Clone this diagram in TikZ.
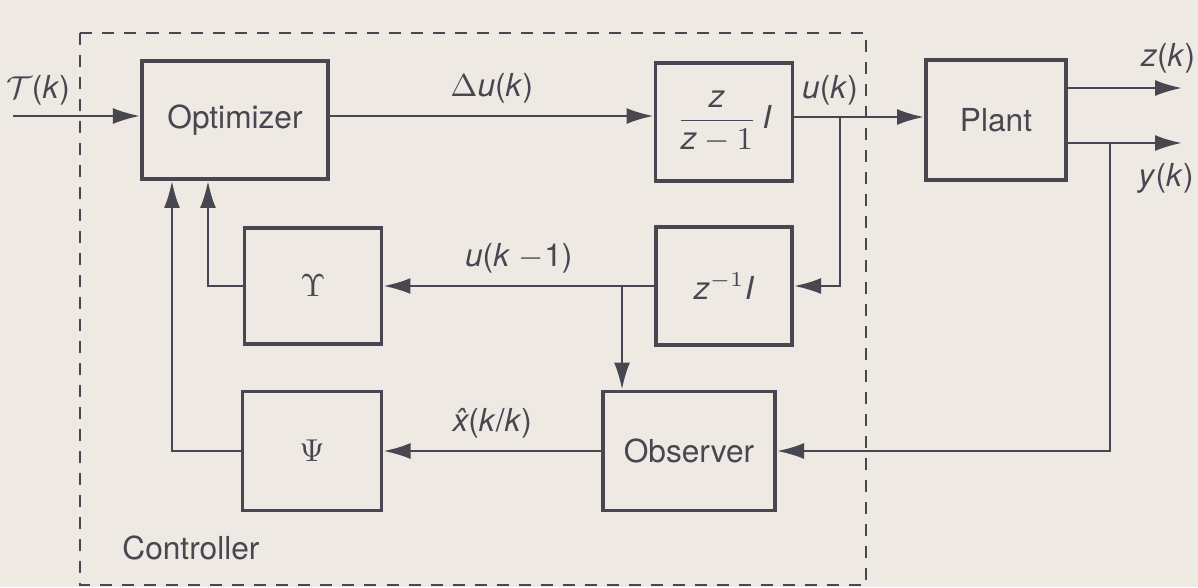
\documentclass[tikz,border=0pt]{standalone}
\usepackage{amsmath}
\usepackage{fontspec}
\setmainfont{TeX Gyre Heros}
\usetikzlibrary{arrows.meta,positioning}
\definecolor{ink}{RGB}{72,70,80}
\definecolor{paper}{RGB}{238,233,227}

\begin{document}
\begin{tikzpicture}[x=0.01cm,y=-0.01cm,
  every node/.style={text=ink,font=\fontsize{9}{11}\selectfont},
  blk/.style={rectangle,draw=ink,line width=1.1pt,inner sep=0pt},
  sig/.style={draw=ink,line width=0.7pt,-{Latex[length=0.27cm,width=0.16cm]}},
  wire/.style={draw=ink,line width=0.7pt}]
\fill[paper] (0,0) rectangle (1198,587);
\useasboundingbox (0,0) rectangle (1198,587);
% Controller boundary
\draw[ink,line width=0.7pt,dash pattern=on 0.12cm off 0.1cm] (80,33) rectangle (866,585);
\node[anchor=west] (ctrl) at (110,548) {Controller};

% Blocks
\node[blk,minimum width=1.86cm,minimum height=1.18cm] (opt) at (235,120) {Optimizer};
\node[blk,minimum width=1.37cm,minimum height=1.18cm] (intg) at (724,122) {$\dfrac{\textit{z}}{\textit{z}-1}\,\textit{I}$};
\node[blk,minimum width=1.40cm,minimum height=1.20cm] (plant) at (996,120) {Plant};
\node[blk,minimum width=1.36cm,minimum height=1.18cm] (delay) at (724,286) {\textit{z}$^{-1}$\textit{I}};
\node[blk,minimum width=1.37cm,minimum height=1.16cm] (ups) at (313,286) {$\Upsilon$};
\node[blk,minimum width=1.39cm,minimum height=1.19cm] (psi) at (312,451) {$\Psi$};
\node[blk,minimum width=1.72cm,minimum height=1.19cm] (obs) at (689,451) {Observer};

% Signals
\coordinate (tin) at (13,116);
\node (tk) at (38,90) {$\mathcal{T}$(\textit{k})};
\draw[sig] (tin) -- (tin -| opt.west);
\draw[sig] (tin -| opt.east) -- node[above] {$\Delta$\textit{u}(\textit{k})} (tin -| intg.west);
\coordinate (br1) at (840,117);
\draw[sig] (intg.east |- br1) -- (plant.west |- br1);
\node (uk) at (830,90) {\textit{u}(\textit{k})};
\draw[sig] (br1) |- (delay.east);
\draw[sig] (delay) -- node[above] {\textit{u}(\textit{k} $-$1)} (ups);
\coordinate (br2) at (622,286);
\draw[sig] (br2) -- (br2 |- obs.north);
\draw[sig] (ups.west) -| ([xshift=-0.27cm]opt.south);
\draw[sig] (psi.west) -| ([xshift=-0.63cm]opt.south);
\draw[sig] (obs) -- node[above] {\textit{\^x}(\textit{k}/\textit{k})} (psi);

% Plant outputs
\coordinate (zend) at (1182,88);
\coordinate (yend) at (1182,143);
\draw[sig] (plant.east |- zend) -- (zend);
\draw[sig] (plant.east |- yend) -- (yend);
\node (zk) at (1168,58) {\textit{z}(\textit{k})};
\node (yk) at (1166,178) {\textit{y}(\textit{k})};
\coordinate (br3) at (1110,143);
\draw[sig] (br3) |- (obs.east);
\end{tikzpicture}
\end{document}
